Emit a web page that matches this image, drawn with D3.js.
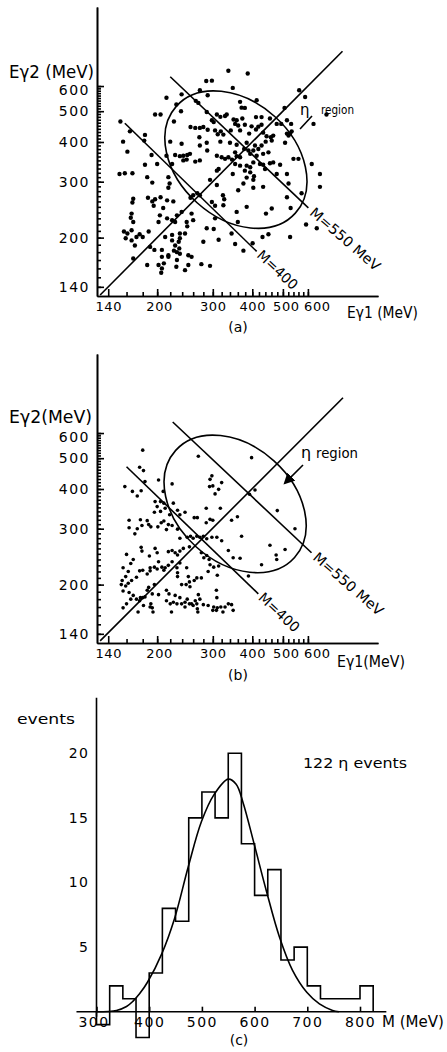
<!DOCTYPE html>
<html>
<head>
<meta charset="utf-8">
<script src="https://cdn.jsdelivr.net/npm/d3@7"></script>
<style>
  body { margin: 0; background: #fff; }
  svg { display: block; font-family: "DejaVu Sans", sans-serif; }
  .ax path, .ax line { stroke: #000; stroke-width: 1.6; }
  .mark { fill: none; stroke: #000; stroke-width: 1.6; }
</style>
</head>
<body>
<script>
// ---- data (MeV) ----
var tickLabels = [140, 200, 300, 400, 500, 600];

// panel (a): [E_gamma1, E_gamma2]
var pointsA = [
  [336,670],[387,657],[286,622],[298,624],[347,592],[273,582],[563,582],[239,565],[289,561],[588,554],
  [214,551],[265,539],[230,525],[270,531],[366,535],[413,541],[506,512],[379,512],[370,513],[197,488],
  [205,488],[238,500],[287,497],[309,488],[317,480],[328,483],[332,488],[349,471],[357,468],[372,474],
  [411,479],[428,479],[455,474],[298,468],[302,462],[379,453],[361,451],[353,456],[398,448],[418,447],
  [428,453],[478,456],[494,456],[515,468],[531,456],[625,456],[687,488],[226,464],[153,464],[255,446],
  [264,443],[273,443],[280,446],[289,437],[305,435],[318,432],[311,423],[324,422],[342,435],[366,435],
  [391,425],[411,438],[433,428],[444,417],[458,414],[466,419],[515,425],[527,425],[521,419],[533,432],
  [164,432],[183,421],[156,401],[182,404],[220,401],[239,395],[272,414],[273,390],[287,398],[317,401],
  [340,398],[357,392],[384,398],[408,390],[428,390],[441,401],[461,404],[508,398],[161,373],[192,364],
  [214,362],[228,364],[236,361],[242,362],[249,364],[254,367],[288,376],[309,362],[320,358],[328,354],
  [336,358],[345,352],[353,371],[357,361],[366,358],[394,367],[413,362],[433,367],[450,371],[403,376],
  [418,380],[377,380],[389,376],[183,339],[200,341],[223,341],[242,350],[248,352],[264,347],[273,350],
  [353,341],[366,337],[384,337],[394,333],[403,345],[423,341],[433,339],[455,343],[466,345],[490,339],
  [540,354],[560,354],[617,341],[152,317],[158,319],[167,319],[186,310],[217,310],[309,325],[313,329],
  [347,317],[379,325],[394,321],[405,312],[439,329],[478,317],[515,317],[655,317],
  [193,298],[219,296],[217,287],[294,304],[309,293],[384,309],[403,304],
  [375,296],[403,287],[361,282],[433,289],[521,296],[655,289],
  [168,265],[167,258],[187,267],[193,260],[197,264],[195,252],[205,268],[209,248],[215,262],
  [225,260],[260,272],[268,276],[273,272],[255,267],[298,259],[305,252],[323,272],[326,264],[324,253],
  [515,268],[573,276],[384,250],[461,247],[529,248],[357,241],[442,238],[166,238],[165,231],[168,224],
  [204,235],[202,224],[215,230],[223,227],[228,224],[231,235],[239,241],[248,224],[249,217],[257,238],
  [260,227],[305,230],[360,224],[592,220],[640,214],[157,209],[161,206],[166,211],[159,199],[166,196],
  [172,201],[176,205],[180,201],[170,189],[188,209],[212,201],[223,204],[236,206],[223,196],[228,189],
  [234,194],[236,199],[235,185],[245,206],[287,214],[302,213],[280,194],[313,197],[344,206],[353,191],
  [375,182],[401,192],[431,201],[450,205],[527,201],[190,187],[196,183],[207,183],[207,174],[217,174],
  [226,182],[231,180],[236,178],[251,176],[257,174],[231,170],[217,176],[168,172],[186,164],[202,164],
  [207,160],[210,166],[206,155],[230,162],[245,158],[251,164],[276,165],[294,163]
];

// panel (b): [E_gamma1, E_gamma2]
var pointsB = [
  [180,530],[270,507],[398,502],[176,468],[181,457],[183,422],[202,427],[223,415],[158,407],[167,393],
  [178,395],[173,380],[209,393],[298,440],[294,429],[300,409],[320,419],[293,407],[313,399],[305,386],
  [408,397],[392,385],[197,365],[205,365],[210,361],[200,352],[196,338],[205,340],[212,348],[219,332],
  [225,361],[232,343],[236,332],[245,338],[262,325],[268,325],[286,348],[317,348],[294,321],[300,319],
  [286,313],[344,319],[359,327],[480,342],[546,300],[163,319],[177,320],[186,318],[188,309],[179,307],
  [173,300],[163,302],[170,289],[191,304],[201,304],[206,313],[210,317],[217,309],[223,307],[214,298],
  [232,299],
  [236,280],[249,282],[255,284],[260,280],[267,284],[273,282],[280,284],[287,279],[298,282],[309,282],
  [320,275],[370,284],[178,262],[179,255],[197,260],[200,252],[217,254],[223,256],[228,252],[232,248],
  [189,246],[160,249],[168,240],[165,233],[156,226],[162,220],[159,212],[155,206],[154,200],[159,198],
  [162,202],[166,206],[172,211],[176,221],[180,222],[186,216],[190,221],[196,227],[200,224],[202,236],
  [207,227],[212,226],[217,230],[223,236],[236,234],[231,226],[232,218],[232,212],[239,200],[247,200],
  [251,212],[253,204],[262,206],[267,210],[276,210],[276,252],[281,243],[287,247],[292,240],[294,231],
  [302,227],[313,229],[290,220],[310,214],[336,256],[348,243],[366,242],[389,213],[428,231],[455,266],
  [476,248],[478,240],[508,258],[163,189],[168,185],[172,180],[176,178],[177,182],[180,182],[160,174],
  [174,164],[156,169],[186,192],[188,196],[193,187],[196,200],[202,186],[191,174],[193,169],[194,164],
  [190,170],[181,172],[214,192],[218,187],[228,185],[236,182],[214,178],[220,174],[225,176],[231,174],
  [239,174],[245,176],[249,180],[253,174],[257,174],[264,178],[260,172],[267,174],[222,164],[245,170],
  [268,168],[269,164],[280,173],[290,172],[302,170],[300,166],[308,166],[310,169],[318,170],[323,164],
  [328,170],[336,174],[344,173],[348,166],[308,192],[309,182],[156,191],[165,180],[183,183],[190,226],
  [210,222],[248,226],[254,197],[270,186],[273,180],[236,255],[242,260],[253,263]
];

// guide lines: E1 = E2 diagonal and constant-mass lines, end points in MeV
var diagA = [[132,132],[772,772]];
var m400A = [[158,458],[413,181]];
var m550A = [[220,642],[602,248]];
var diagB = [[132,133],[775,775]];
var m400B = [[160,470],[418,187]];
var m550B = [[224,650],[616,252]];
var etaCentreA = [355, 352];
var etaCentreB = [353, 359];
var etaArrowB = [[579,476],[508,418]];

// panel (c): 25 MeV bins starting at 300 MeV
var binStart = 300, binWidth = 25;
var counts = [-1, 2, 1, -2, 3, 8, 7, 15, 17, 15, 20, 13, 9, 11, 4, 5, 2, 1, 1, 1, 2];
var massTicks = [300, 400, 500, 600, 700, 800];
var countTicks = [5, 10, 15, 20];
// fitted curve [M, events]
var fitCurve = [
  [300,0],[338,0.1],[357,0.4],[369,0.8],[382,1.4],[397,2.3],[424,4.5],[448,7.2],[474,11.2],
  [499,14.7],[523,16.8],[550,18],[565,17.6],[578,16.2],[599,13],[622,9.4],[647,5.8],[672,3.2],
  [699,1.5],[723,0.6],[748,0.1],[760,0]
];

var svg = d3.select("body").append("svg")
    .attr("width", 447)
    .attr("height", 1052);

// text squeezed to the width it takes in the scan
function txt(x, y, s, size, len, anchor) {
    var t = svg.append("text")
        .attr("x", x).attr("y", y)
        .attr("font-size", size)
        .attr("text-anchor", anchor || "start")
        .text(s);
    if (len) t.attr("textLength", len).attr("lengthAdjust", "spacingAndGlyphs");
    return t;
}

// small nudges so crowded labels sit where the scan puts them
var labelShift = { 140: 0, 200: 2, 300: 0, 400: 0, 500: 3, 600: 9 };

function scatter(top, pts, diag, m400, m550, centre, r) {
    var g = svg.append("g").attr("transform", "translate(97," + top + ")");
    var x = d3.scaleLog().domain([129, 1000]).range([0, 281]);
    var y = d3.scaleLog().domain([131, 1064]).range([289, 0]);

    // minor ticks, pointing inwards
    g.append("g").attr("class", "ax")
        .attr("transform", "translate(0,289)")
        .call(d3.axisBottom(x).tickValues(d3.range(160, 601, 20))
            .tickSizeInner(-4).tickSizeOuter(0).tickFormat(""));
    g.append("g").attr("class", "ax")
        .call(d3.axisLeft(y).tickValues(d3.range(140, 601, 10))
            .tickSizeInner(-4).tickSizeOuter(0).tickFormat(""));

    var xa = g.append("g").attr("class", "ax")
        .attr("transform", "translate(0,289)")
        .call(d3.axisBottom(x).tickValues(tickLabels)
            .tickSizeInner(-7).tickSizeOuter(0).tickPadding(6).tickFormat(d3.format("d")));
    var ya = g.append("g").attr("class", "ax")
        .call(d3.axisLeft(y).tickValues(tickLabels)
            .tickSizeInner(-7).tickSizeOuter(0).tickPadding(7).tickFormat(d3.format("d")));
    xa.attr("font-size", 13).attr("font-family", null);
    xa.selectAll("text").attr("letter-spacing", 0.6).attr("fill", "#000")
        .attr("dx", d => labelShift[d]);
    ya.attr("font-size", 14).attr("font-family", null);
    ya.selectAll("text").attr("letter-spacing", 1.5).attr("fill", "#000")
        .attr("dy", d => d === 600 ? "0.6em" : "0.32em");

    var line = d3.line().x(d => x(d[0])).y(d => y(d[1]));
    [diag, m400, m550].forEach(function (l) {
        g.append("path").attr("class", "mark").attr("d", line(l));
    });

    g.append("ellipse")
        .attr("class", "mark")
        .attr("stroke-width", 2)
        .attr("rx", 80).attr("ry", 58)
        .attr("transform", "translate(" + x(centre[0]) + "," + y(centre[1]) + ") rotate(42)");

    g.selectAll(".dot")
        .data(pts)
        .enter().append("circle")
        .attr("class", "dot")
        .attr("cx", d => x(d[0]))
        .attr("cy", d => y(d[1]))
        .attr("r", r)
        .attr("fill", "#000");

    // mass labels along the lines
    var e4 = m400[1], e5 = m550[1];
    g.append("text")
        .attr("font-size", 14)
        .attr("dominant-baseline", "middle")
        .attr("textLength", 50).attr("lengthAdjust", "spacingAndGlyphs")
        .attr("transform", "translate(" + (x(e4[0]) + 2) + "," + (y(e4[1]) + 2) + ") rotate(43)")
        .text("M=400");
    g.append("text")
        .attr("font-size", 14)
        .attr("dominant-baseline", "middle")
        .attr("textLength", 88).attr("lengthAdjust", "spacingAndGlyphs")
        .attr("transform", "translate(" + (x(e5[0]) + 3) + "," + (y(e5[1]) + 3) + ") rotate(41)")
        .text("M=550 MeV");
    return { g: g, x: x, y: y };
}

// ---- (a) ----
var pa = scatter(7, pointsA, diagA, m400A, m550A, etaCentreA, 2.2);
pa.g.append("text").attr("x", 203).attr("y", 108).attr("font-size", 15).text("η");
pa.g.append("text").attr("x", 224).attr("y", 107).attr("font-size", 12)
    .attr("textLength", 33).attr("lengthAdjust", "spacingAndGlyphs").text("region");
pa.g.append("line").attr("class", "mark").attr("stroke-width", 1.2)
    .attr("x1", 215).attr("y1", 109).attr("x2", 203).attr("y2", 122);
txt(9, 78, "Eγ2 (MeV)", 17, 85);
txt(347, 318, "Eγ1 (MeV)", 16, 71);
txt(238, 332, "(a)", 14, 0, "middle");

// ---- (b) ----
var pb = scatter(354, pointsB, diagB, m400B, m550B, etaCentreB, 1.8);
pb.g.append("text").attr("x", 204).attr("y", 104).attr("font-size", 16).text("η");
pb.g.append("text").attr("x", 219).attr("y", 104).attr("font-size", 14)
    .attr("textLength", 42).attr("lengthAdjust", "spacingAndGlyphs").text("region");
var ax0 = etaArrowB[0], ax1 = etaArrowB[1];
svg.append("defs").append("marker")
    .attr("id", "head").attr("viewBox", "0 0 10 10")
    .attr("refX", 8).attr("refY", 5)
    .attr("markerWidth", 7).attr("markerHeight", 7)
    .attr("orient", "auto")
    .append("path").attr("d", "M0,0L10,5L0,10z").attr("fill", "#000");
pb.g.append("line").attr("class", "mark").attr("stroke-width", 1.8)
    .attr("x1", pb.x(ax0[0])).attr("y1", pb.y(ax0[1]))
    .attr("x2", pb.x(ax1[0])).attr("y2", pb.y(ax1[1]))
    .attr("marker-end", "url(#head)");
txt(9, 423, "Eγ2(MeV)", 17, 83);
txt(337, 667, "Eγ1(MeV)", 16, 68);
txt(238, 680, "(b)", 14, 0, "middle");

// ---- (c) histogram ----
var hx = d3.scaleLinear().domain([300, 800]).range([96.5, 360]);
var hy = d3.scaleLinear().domain([0, 20]).range([1011.7, 753.3]);

svg.append("line").attr("class", "mark")
    .attr("x1", hx(262)).attr("x2", hx(850))
    .attr("y1", hy(0)).attr("y2", hy(0));
svg.append("line").attr("class", "mark")
    .attr("x1", hx(300)).attr("x2", hx(300))
    .attr("y1", hy(-0.4)).attr("y2", hy(24.3));

var hxa = svg.append("g").attr("class", "ax")
    .attr("transform", "translate(0," + hy(0) + ")")
    .call(d3.axisBottom(hx).tickValues(massTicks).tickSizeInner(-5).tickSizeOuter(0).tickPadding(5));
hxa.select(".domain").remove();
var hya = svg.append("g").attr("class", "ax")
    .attr("transform", "translate(" + hx(300) + ",0)")
    .call(d3.axisLeft(hy).tickValues(countTicks).tickSize(0).tickPadding(7));
hya.select(".domain").remove();
[hxa, hya].forEach(function (a) {
    a.attr("font-size", 14).attr("font-family", null);
    a.selectAll("text").attr("letter-spacing", 1.5).attr("fill", "#000");
});
hxa.selectAll("text").attr("dx", d => d === 300 ? -3 : 0);

var steps = [[binStart, 0]];
counts.forEach(function (c, i) {
    steps.push([binStart + i * binWidth, c]);
    steps.push([binStart + (i + 1) * binWidth, c]);
});
steps.push([binStart + counts.length * binWidth, 0]);
svg.append("path").attr("class", "mark")
    .attr("d", d3.line().x(d => hx(d[0])).y(d => hy(d[1]))(steps));

svg.append("path").attr("class", "mark").attr("stroke-width", 2)
    .attr("d", d3.line().curve(d3.curveCatmullRom).x(d => hx(d[0])).y(d => hy(d[1]))(fitCurve));

txt(17, 724, "events", 14, 58);
txt(303, 768, "122 η events", 14, 104);
txt(382, 1027, "M (MeV)", 15, 62);
txt(239, 1045, "(c)", 14, 0, "middle");
</script>
</body>
</html>
